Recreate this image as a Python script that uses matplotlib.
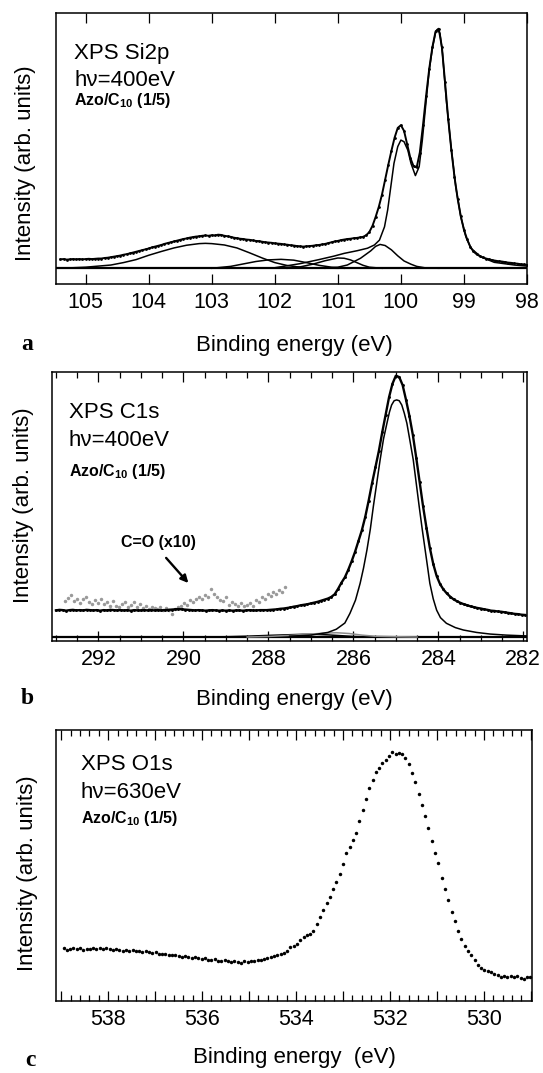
import numpy as np
import matplotlib
matplotlib.use('Agg')
import matplotlib.pyplot as plt
from matplotlib.ticker import MultipleLocator, FuncFormatter

# ---------------- data (intensity in arb. units 0-100 of each frame) ----------------
# Panel a: Si2p, energies start 105.40 eV, step 0.05 eV
si_start, si_step = 105.40, 0.05
si_data = [
    9.1, 9.2, 9.0, 9.1, 9.2, 9.1, 9.2, 9.1, 9.2, 9.3,
    9.2, 9.3, 9.4, 9.4, 9.6, 9.7, 9.9, 10.1, 10.3, 10.5,
    10.8, 11.0, 11.3, 11.6, 11.9, 12.2, 12.5, 12.8, 13.1, 13.5,
    13.8, 14.1, 14.4, 14.8, 15.1, 15.4, 15.7, 16.0, 16.3, 16.6,
    16.8, 17.1, 17.3, 17.5, 17.6, 17.8, 17.9, 17.8, 18.0, 17.9,
    18.2, 18.1, 17.8, 17.6, 17.4, 17.1, 16.9, 16.7, 16.6, 16.4,
    16.3, 16.1, 15.9, 15.8, 15.6, 15.4, 15.3, 15.2, 15.0, 14.9,
    14.8, 14.6, 14.5, 14.3, 14.2, 14.0, 13.9, 13.8, 13.9, 14.0,
    14.1, 14.3, 14.4, 14.6, 14.8, 15.1, 15.4, 15.7, 15.9, 16.2,
    16.4, 16.6, 16.7, 16.9, 17.0, 17.2, 17.4, 18.0, 19.2, 21.5,
    24.8, 28.5, 33.0, 38.5, 44.0, 49.2, 54.0, 57.6, 58.6, 56.5,
    51.5, 46.5, 43.5, 43.0, 48.5, 58.5, 69.5, 79.5, 87.5, 93.2,
    94.2, 87.5, 74.5, 61.0, 49.5, 39.5, 31.5, 25.0, 20.0, 16.5,
    13.8, 12.0, 11.0, 10.3, 9.8, 9.4, 9.1, 8.8, 8.6, 8.4,
    8.3, 8.1, 7.9, 7.8, 7.6, 7.5, 7.3, 7.2, 7.0,
]
si_baseline = 5.8
# fitted components (energy, intensity) pairs
si0_E = [102.0, 101.6, 101.3, 101.06, 100.9, 100.69, 100.53, 100.42, 100.34, 100.26, 100.21,
         100.16, 100.11, 100.05, 100.0, 99.95, 99.89, 99.84, 99.77, 99.71, 99.66, 99.6, 99.55,
         99.5, 99.45, 99.42, 99.38, 99.34, 99.28, 99.21, 99.13, 99.05, 98.97, 98.89, 98.73,
         98.52, 98.2, 98.0]
si0_I = [6.0, 7.5, 9.0, 10.3, 11.3, 12.3, 13.2, 14.4, 16.2, 21.1, 27.3,
         35.9, 44.5, 50.7, 53.1, 52.5, 49.4, 44.5, 40.0, 43.3, 53.1, 67.5, 79.0,
         87.0, 92.8, 94.0, 92.5, 85.0, 67.9, 51.9, 35.9, 24.8, 17.5, 13.2, 10.0,
         8.0, 7.0, 6.6]
si1_E = [101.2, 101.0, 100.85, 100.64, 100.48, 100.4, 100.33, 100.25, 100.15, 100.05, 99.95,
         99.84, 99.75, 99.6, 99.4]
si1_I = [5.8, 6.2, 7.0, 9.5, 12.2, 13.9, 14.6, 14.2, 12.6, 10.4, 8.5, 7.3, 6.5, 5.9, 5.8]
si2_E = [101.8, 101.6, 101.4, 101.2, 101.0, 100.9, 100.8, 100.7, 100.6, 100.5, 100.3]
si2_I = [5.8, 6.3, 7.3, 8.6, 9.6, 9.5, 8.9, 7.9, 6.9, 6.2, 5.8]
si3_E = [103.0, 102.7, 102.5, 102.3, 102.1, 101.9, 101.7, 101.5, 101.3, 101.1, 100.9]
si3_I = [5.8, 6.5, 7.4, 8.3, 8.9, 9.1, 8.8, 7.9, 6.9, 6.2, 5.8]
si4_E = [105.45, 105.2, 105.0, 104.8, 104.6, 104.4, 104.2, 104.0, 103.8, 103.6, 103.4, 103.2,
         103.1, 103.0, 102.8, 102.6, 102.4, 102.2, 102.0, 101.8, 101.6, 101.4, 101.0]
si4_I = [5.9, 6.0, 6.2, 6.6, 7.0, 7.9, 9.0, 10.6, 12.0, 13.3, 14.3, 14.9,
         15.0, 14.9, 14.4, 13.3, 11.5, 9.6, 7.9, 6.8, 6.2, 5.9, 5.8]

# Panel b: C1s, energies start 293.00 eV, step 0.08 eV
c_start, c_step = 293.00, 0.08
c_data = [
    11.2, 11.4, 11.3, 11.1, 11.3, 11.4, 11.2, 11.3, 11.2, 11.4,
    11.3, 11.2, 11.3, 11.1, 11.3, 11.2, 11.4, 11.3, 11.2, 11.3,
    11.2, 11.3, 11.1, 11.3, 11.2, 11.2, 11.3, 11.2, 11.3, 11.2,
    11.3, 11.2, 11.3, 11.4, 11.5, 11.6, 11.7, 11.6, 11.5, 11.4,
    11.3, 11.2, 11.3, 11.2, 11.1, 11.2, 11.3, 11.2, 11.1, 11.2,
    11.1, 11.2, 11.1, 11.2, 11.2, 11.1, 11.2, 11.3, 11.2, 11.2,
    11.3, 11.3, 11.3, 11.4, 11.5, 11.6, 11.8, 11.9, 12.1, 12.3,
    12.6, 12.8, 13.1, 13.3, 13.5, 13.8, 14.1, 14.4, 14.8, 15.2,
    15.6, 16.2, 17.2, 19.2, 21.5, 23.5, 26.3, 29.5, 33.0, 37.0,
    41.0, 46.0, 52.0, 58.5, 64.5, 70.5, 77.5, 84.0, 90.5, 95.5,
    98.5, 98.0, 95.0, 89.5, 83.5, 76.5, 68.0, 59.0, 50.0, 42.0,
    34.5, 28.5, 24.0, 21.0, 19.0, 17.5, 16.3, 15.3, 14.6, 14.0,
    13.5, 13.1, 12.7, 12.4, 12.1, 11.9, 11.6, 11.4, 11.1, 11.0,
    10.8, 10.7, 10.5, 10.3, 10.1, 9.9, 9.8, 9.6, 9.5,
]
# C=O region x10, energies start 292.78 eV, step 0.07 eV
co_start, co_step = 292.78, 0.07
co_data = [
    14.8, 15.9, 16.8, 14.6, 15.4, 13.9, 15.3, 16.0, 14.2, 13.6,
    15.1, 14.0, 15.6, 13.5, 14.4, 12.9, 14.6, 13.0, 12.6, 13.7,
    14.5, 12.5, 13.1, 14.2, 12.3, 13.4, 12.2, 12.9, 11.8, 12.6,
    12.0, 11.6, 12.5, 11.5, 12.2, 11.3, 9.8, 11.9, 12.4, 12.9,
    13.8, 13.2, 14.9, 14.3, 15.5, 16.2, 15.4, 17.0, 16.3, 19.0,
    17.2, 16.0, 15.2, 14.6, 16.0, 13.3, 14.3, 13.6, 12.9, 13.8,
    12.7, 13.3, 14.1, 13.0, 15.0, 14.2, 16.3, 15.4, 17.2, 16.5,
    18.1, 17.3, 18.9, 18.0, 19.8,
]
c_baseline = 1.3
cmain_E = [287.5, 287.0, 286.6, 286.4, 286.2, 286.08, 285.95, 285.84, 285.76, 285.68, 285.6,
           285.53, 285.45, 285.37, 285.29, 285.21, 285.15, 285.1, 285.04, 284.98, 284.92,
           284.86, 284.8, 284.74, 284.67, 284.59, 284.52, 284.45, 284.38, 284.31, 284.25,
           284.2, 284.12, 284.04, 283.95, 283.81, 283.6, 283.41, 283.1, 282.78, 282.4, 281.92]
cmain_I = [1.6, 2.0, 3.0, 4.2, 6.5, 10.1, 15.0, 21.3, 27.0, 33.7, 41.5,
           49.8, 58.5, 67.2, 75.0, 80.8, 85.0, 87.6, 89.2, 89.5, 89.2,
           87.6, 84.5, 80.8, 74.5, 67.2, 58.5, 49.8, 41.5, 33.7, 27.0,
           21.3, 15.5, 11.3, 8.5, 6.4, 4.8, 3.9, 3.0, 2.4, 2.0, 1.7]
cc1_E = [288.5, 288.0, 287.5, 287.0, 286.7, 286.4, 286.1, 285.8, 285.5, 285.0, 284.5]
cc1_I = [1.3, 1.5, 1.9, 2.4, 2.7, 2.9, 2.6, 2.0, 1.6, 1.4, 1.3]
cc2_E = [290.0, 289.0, 288.5, 288.0, 287.6, 287.2, 286.9, 286.6, 286.3, 286.0, 285.6]
cc2_I = [1.3, 1.4, 1.6, 1.9, 2.1, 2.3, 2.3, 2.1, 1.8, 1.5, 1.3]

# Panel c: O1s, energies start 538.95 eV, step 0.07 eV
o_start, o_step = 538.95, 0.07
o_data = [
    19.5, 18.9, 19.3, 19.6, 19.2, 19.4, 19.0, 19.3, 19.1, 19.4,
    19.2, 19.5, 19.3, 19.6, 19.2, 19.0, 19.3, 18.8, 18.6, 18.9,
    18.5, 18.8, 18.4, 18.6, 18.2, 18.5, 18.0, 17.8, 17.9, 17.5,
    17.2, 17.4, 17.0, 16.8, 17.1, 16.6, 16.4, 16.7, 16.2, 16.0,
    16.3, 15.7, 15.5, 15.9, 15.3, 15.0, 15.4, 14.8, 14.6, 15.0,
    14.7, 14.3, 14.6, 14.4, 14.2, 14.6, 14.5, 14.8, 14.9, 15.3,
    15.1, 15.6, 15.9, 16.1, 16.5, 16.8, 17.4, 17.6, 18.5, 19.8,
    20.4, 21.2, 22.4, 23.6, 24.3, 24.8, 26.0, 28.5, 31.0, 33.5,
    36.0, 38.5, 41.5, 44.0, 46.8, 50.5, 54.5, 57.0, 59.5, 62.0,
    66.5, 70.5, 74.5, 78.5, 81.5, 84.5, 86.0, 87.8, 89.0, 90.5,
    91.8, 91.0, 91.6, 91.3, 89.5, 87.5, 84.2, 80.8, 76.5, 72.5,
    68.3, 64.0, 59.0, 54.5, 50.8, 45.5, 41.5, 37.3, 33.0, 29.5,
    25.8, 22.8, 20.3, 18.3, 16.8, 15.3, 13.2, 12.0, 11.6, 11.0,
    10.6, 10.1, 9.6, 9.0, 9.3, 9.0, 9.2, 8.9, 9.1, 8.6,
    8.3, 8.8, 8.9,
]

# ---------------- figure ----------------
plt.rcParams['font.family'] = ['Liberation Sans', 'DejaVu Sans']
plt.rcParams['mathtext.fontset'] = 'custom'
plt.rcParams['mathtext.rm'] = 'Liberation Sans'
plt.rcParams['mathtext.bf'] = 'Liberation Sans:bold'

W, H = 543, 1073
fig = plt.figure(figsize=(W / 100, H / 100), dpi=100)


def add_ax(l, t, r, b):
    return fig.add_axes([l / W, 1 - b / H, (r - l) / W, (b - t) / H])


def ftext(x, y, s, **kw):
    fig.text(x / W, 1 - y / H, s, **kw)


def energies(start, step, n):
    return start - step * np.arange(n)


def style(ax, xlim, major, minor=None, label_every=None):
    ax.set_xlim(*xlim)
    ax.set_ylim(0, 100)
    ax.set_yticks([])
    ax.xaxis.set_major_locator(MultipleLocator(major))
    if minor:
        ax.xaxis.set_minor_locator(MultipleLocator(minor))
    if label_every:
        ax.xaxis.set_major_formatter(FuncFormatter(
            lambda v, p: '%d' % round(v) if round(v) % label_every == 0 else ''))
    else:
        ax.xaxis.set_major_formatter(FuncFormatter(lambda v, p: '%d' % round(v)))
    ax.tick_params(axis='x', which='major', direction='in', top=True, bottom=True,
                   length=7.5, width=0.9, labelsize=15.5, pad=6)
    ax.tick_params(axis='x', which='minor', direction='in', top=True, bottom=True,
                   length=4, width=0.9)
    for s in ax.spines.values():
        s.set_linewidth(1.1)


lw_comp = 1.1

# ---- panel a ----
axa = add_ax(56, 13, 527, 284)
Ea = energies(si_start, si_step, len(si_data))
axa.axhline(si_baseline, color='k', lw=1.6)
for ce, ci in [(si4_E, si4_I), (si3_E, si3_I), (si2_E, si2_I), (si1_E, si1_I), (si0_E, si0_I)]:
    axa.plot(ce, ci, color='k', lw=lw_comp)
axa.plot(Ea, si_data, color='k', lw=1.4)
axa.plot(Ea, si_data, 'o', color='k', ms=2.0, mec='none')
style(axa, (105.47, 98.0), 1)

# ---- panel b ----
axb = add_ax(51.7, 371.7, 526.7, 640.5)
Eb = energies(c_start, c_step, len(c_data))
Eco = energies(co_start, co_step, len(co_data))
axb.axhline(c_baseline, color='k', lw=1.6)
axb.plot(cc2_E, cc2_I, color='k', lw=lw_comp)
axb.plot(cc1_E, cc1_I, color='#8c8c8c', lw=lw_comp)
axb.plot(cmain_E, cmain_I, color='k', lw=lw_comp)
axb.plot(Eco, co_data, 'o', color='#9a9a9a', ms=2.5, mec='none')
axb.plot(Eb, c_data, color='k', lw=1.7)
axb.plot(Eb, c_data, 'o', color='k', ms=2.1, mec='none')
style(axb, (293.1, 281.92), 2, 0.5)
axb.annotate('', xy=(289.84, 20.6), xytext=(290.45, 31.5),
             arrowprops=dict(arrowstyle='-|>', color='k', lw=1.7, mutation_scale=11))

# ---- panel c ----
axc = add_ax(56, 730, 532.3, 1001)
Eo = energies(o_start, o_step, len(o_data))
axc.plot(Eo, o_data, 'o', color='k', ms=2.5, mec='none')
style(axc, (539.11, 528.97), 1, 0.2, label_every=2)

# ---- labels ----
lab_kw = dict(fontsize=16, ha='center', va='center')
ftext(294.5, 345, 'Binding energy (eV)', **lab_kw)
ftext(294.5, 700, 'Binding energy (eV)', **lab_kw)
ftext(294.5, 1058, 'Binding energy  (eV)', **lab_kw)
ylab_kw = dict(fontsize=16, ha='center', va='center', rotation=90)
ftext(26, 163, 'Intensity (arb. units)', **ylab_kw)
ftext(24, 505, 'Intensity (arb. units)', **ylab_kw)
ftext(27.5, 873, 'Intensity (arb. units)', **ylab_kw)

let_kw = dict(fontsize=17, fontweight='bold', ha='center', va='center',
              family=['Liberation Serif', 'DejaVu Serif'])
ftext(27, 344, 'a', **let_kw)
ftext(27, 699, 'b', **let_kw)
ftext(30, 1061, 'c', **let_kw)

big = dict(fontsize=16, ha='left', va='center')
small = dict(fontsize=11.5, ha='left', va='center', fontweight='bold')
azo = r'Azo/C$_{\mathbf{10}}$ (1/5)'
ftext(74, 53, 'XPS Si2p', **big)
ftext(74, 80, 'h\u03bd=400eV', **big)
ftext(74, 101, azo, **small)
ftext(69, 412, 'XPS C1s', **big)
ftext(69, 440, 'h\u03bd=400eV', **big)
ftext(69, 472, azo, **small)
ftext(81, 765, 'XPS O1s', **big)
ftext(81, 792, 'h\u03bd=630eV', **big)
ftext(81, 819, azo, **small)
ftext(158, 542, 'C=O (x10)', fontsize=11.5, fontweight='bold', ha='center', va='center')

fig.savefig('out.png', dpi=100)
